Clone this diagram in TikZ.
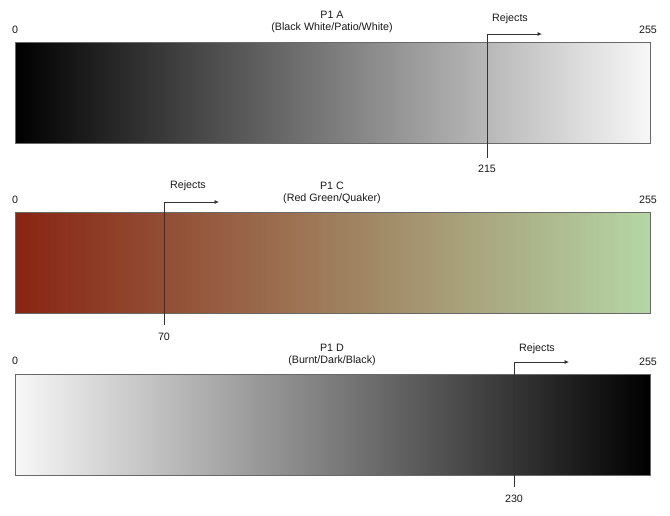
\documentclass[tikz,border=0pt]{standalone}
\usepackage{fontspec}
\setmainfont{Liberation Sans}
\usetikzlibrary{arrows.meta,positioning}

\definecolor{redend}{RGB}{136,36,18}
\definecolor{greenend}{RGB}{181,214,166}
\definecolor{edge}{RGB}{105,105,105}
\definecolor{txt}{RGB}{25,25,25}

\begin{document}
\begin{tikzpicture}[x=1pt, y=-1pt,
    font=\fontsize{10.7}{12.5}\selectfont, text=txt,
    bar/.style={draw=edge, line width=0.8pt, minimum width=635pt, minimum height=101pt, inner sep=0pt},
    title/.style={align=center, inner sep=0pt},
    tick/.style={inner sep=0pt},
    reject/.style={-{Latex[length=4.5pt, width=4pt]}, line width=0.7pt, draw=black!80}
  ]
    \useasboundingbox (0,0) rectangle (670,515);

    % P1 A
    \node[bar, left color=black, right color=white!97!black] (barA) at (332.5,92.5) {};
    \node[title] (titleA) at (332,22) {P1 A\\ (Black White/Patio/White)};
    \node[tick] (lowA) at (15,30) {0};
    \node[tick] (highA) at (648,30) {255};
    \coordinate (cutA) at (487,158);
    \coordinate (tipA) at (542,34);
    \node[tick, below=7pt of cutA] (valA) {215};
    \node[tick] (rejA) at (510,19) {Rejects};
    \draw[reject] (cutA) |- (tipA);

    % P1 C
    \node[bar, left color=redend, right color=greenend] (barC) at (332.5,262.5) {};
    \node[title] (titleC) at (332,193) {P1 C\\ (Red Green/Quaker)};
    \node[tick] (lowC) at (15,200) {0};
    \node[tick] (highC) at (648,200) {255};
    \coordinate (cutC) at (164,325);
    \coordinate (tipC) at (219,202);
    \node[tick, below=8pt of cutC] (valC) {70};
    \node[tick] (rejC) at (188,186) {Rejects};
    \draw[reject] (cutC) |- (tipC);

    % P1 D
    \node[bar, left color=white!97!black, right color=black] (barD) at (332.5,424.5) {};
    \node[title] (titleD) at (332,355) {P1 D\\ (Burnt/Dark/Black)};
    \node[tick] (lowD) at (15,361) {0};
    \node[tick] (highD) at (648,362) {255};
    \coordinate (cutD) at (514,487);
    \coordinate (tipD) at (569,362);
    \node[tick, below=8pt of cutD] (valD) {230};
    \node[tick] (rejD) at (537,349) {Rejects};
    \draw[reject] (cutD) |- (tipD);
  \end{tikzpicture}
\end{document}
